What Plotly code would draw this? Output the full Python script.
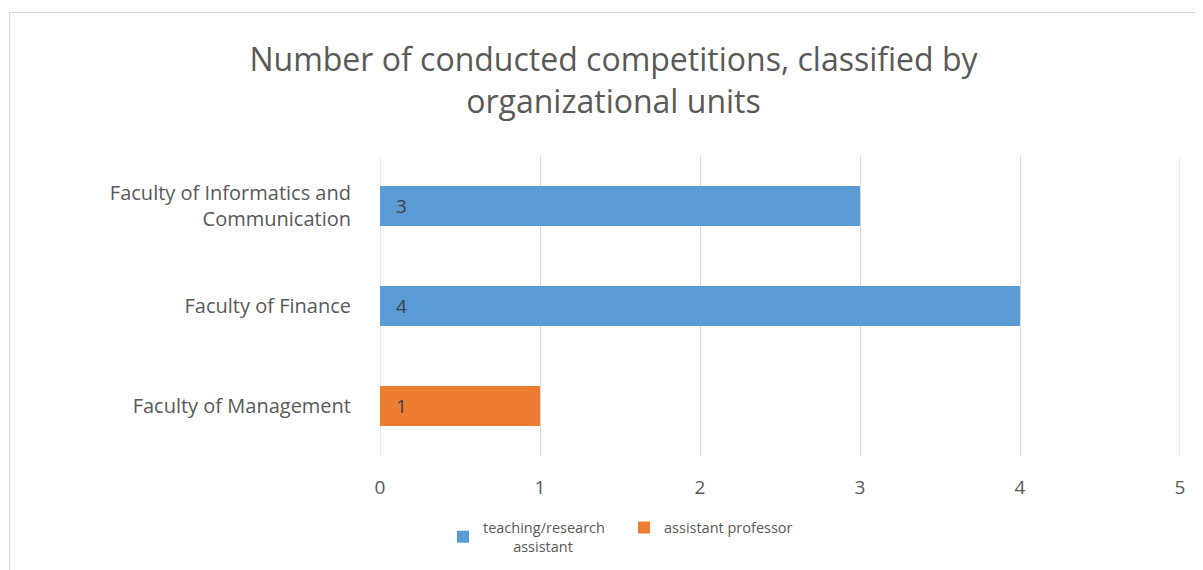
import plotly.graph_objects as go

categories = ["Faculty of Management", "Faculty of Finance", "Faculty of Informatics and<br>Communication"]
teaching_research = [None, 4, 3]
assistant_prof = [1, None, None]
series_names = ["teaching/research<br>\u00a0\u00a0\u00a0\u00a0\u00a0\u00a0\u00a0\u00a0assistant", "assistant professor"]
colors = ["#5B9BD5", "#ED7D31"]
x_ticks = [0, 1, 2, 3, 4, 5]

# page body has an 8px margin; figure coordinates below are screen - 8
OFF = 8
W, H = 1203 - OFF, 570 - OFF
L, T = 380 - OFF, 156 - OFF
pw, ph = 800, 300
R, B = W - L - pw, H - T - ph

def px_x(p):  # screen px -> paper
    return (p - OFF - L) / pw

def px_y(p):
    return (T + ph - (p - OFF)) / ph

def cx(p):  # screen px -> container
    return (p - OFF) / W

def cy(p):
    return 1 - (p - OFF) / H

fig = go.Figure()
for name, vals, col in [(series_names[0], teaching_research, colors[0]),
                        (series_names[1], assistant_prof, colors[1])]:
    fig.add_trace(go.Bar(
        y=categories, x=vals, name=name, orientation="h",
        marker=dict(color=col, line=dict(width=0)),
        text=[("" if v is None else "\u00a0\u00a0\u2009" + str(v)) for v in vals],
        textposition="inside", insidetextanchor="start",
        textfont=dict(size=19, color="#404040", family="Open Sans"),
        cliponaxis=False,
    ))

fig.update_layout(
    width=W, height=H,
    margin=dict(l=L, r=R, t=T, b=B, autoexpand=False),
    barmode="stack", bargap=0.6,
    paper_bgcolor="white", plot_bgcolor="white",
    font=dict(family="Open Sans", color="#595959"),
    title=dict(text="Number of conducted competitions, classified by<br>organizational units",
               xref="container", yref="container",
               x=cx(613.5), xanchor="center", y=cy(71), yanchor="middle",
               font=dict(size=32, color="#595959", family="Open Sans")),
    xaxis=dict(range=[0, 5], tickvals=x_ticks, showgrid=True, gridcolor="#D9D9D9", gridwidth=1,
               zeroline=False, showline=False, ticks="", ticklabelstandoff=18, automargin=False,
               tickfont=dict(size=19, color="#595959")),
    yaxis=dict(showgrid=False, zeroline=False, showline=False, ticks="",
               ticklabelstandoff=28, automargin=False,
               tickfont=dict(size=20, color="#595959")),
    legend=dict(orientation="h", xref="container", yref="container",
                x=cx(443), xanchor="left", y=cy(537), yanchor="middle",
                font=dict(size=14.5, color="#595959"), itemwidth=30,
                traceorder="normal", itemclick=False, entrywidth=136),
    showlegend=True,
)
# edge gridlines (0 and 5) that plotly skips at the range boundaries
for xv in (x_ticks[0], x_ticks[-1]):
    fig.add_shape(type="line", xref="x", yref="paper", x0=xv, x1=xv, y0=0, y1=1.0,
                  line=dict(color="#D9D9D9", width=1), layer="below")
fig.add_shape(type="rect", xref="paper", yref="paper",
              x0=px_x(9.5), x1=px_x(1215), y0=px_y(12.5), y1=px_y(590),
              line=dict(color="#D9D9D9", width=1), layer="below")

fig.write_html("out.html")
